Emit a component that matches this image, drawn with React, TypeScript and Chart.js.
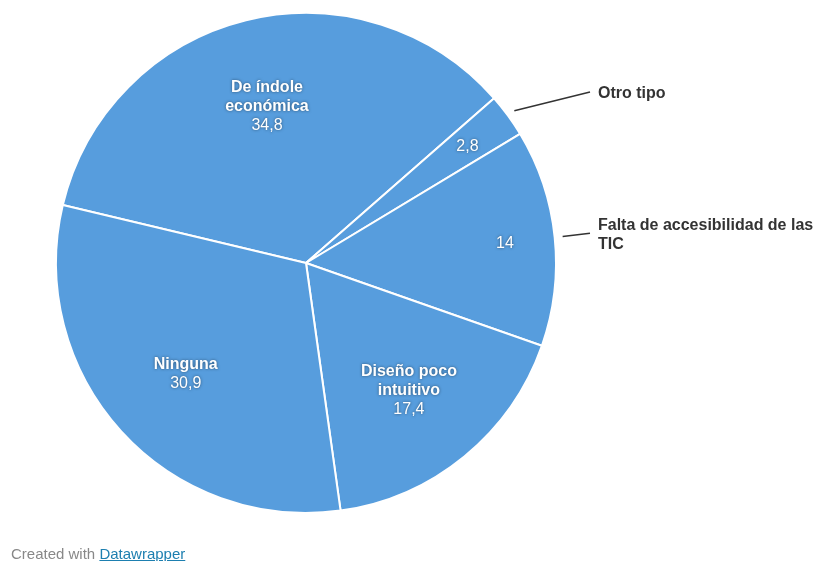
import React, { useEffect, useRef } from "react";
import { Chart, registerables } from "chart.js";

Chart.register(...registerables);

const categories = [
  "De índole económica",
  "Otro tipo",
  "Falta de accesibilidad de las TIC",
  "Diseño poco intuitivo",
  "Ninguna",
];
const values = [34.8, 2.8, 14, 17.4, 30.9];
const nameLines = [
  ["De índole", "económica"],
  ["Otro tipo"],
  ["Falta de accesibilidad de las", "TIC"],
  ["Diseño poco", "intuitivo"],
  ["Ninguna"],
];

const PIE_COLOR = "#579ddd";
const FONT = "Arial, 'Liberation Sans', sans-serif";

const fmt = (v: number) => String(v).replace(".", ",");

const labelPlugin = {
  id: "pieLabels",
  afterDatasetsDraw(chart: any) {
    const ctx: CanvasRenderingContext2D = chart.ctx;
    const meta = chart.getDatasetMeta(0);
    meta.data.forEach((arc: any, i: number) => {
      const { x, y, startAngle, endAngle, outerRadius } = arc.getProps(
        ["x", "y", "startAngle", "endAngle", "outerRadius"],
        true
      );
      const mid = (startAngle + endAngle) / 2;
      const cos = Math.cos(mid);
      const sin = Math.sin(mid);
      const v = values[i];
      const outside = v < 15;
      const lh = 19;
      const dy = 1.5;
      ctx.save();
      ctx.textAlign = "center";
      ctx.textBaseline = "middle";
      ctx.fillStyle = "#ffffff";
      ctx.shadowColor = "rgba(0,0,0,0.5)";
      ctx.shadowBlur = 3;
      if (!outside) {
        const r = outerRadius * 0.65;
        const lx = x + cos * r;
        const ly = y + sin * r + dy;
        const lines = nameLines[i];
        const total = lines.length + 1;
        const y0 = ly - ((total - 1) * lh) / 2;
        ctx.font = `bold 16px ${FONT}`;
        lines.forEach((t, k) => ctx.fillText(t, lx, y0 + k * lh));
        ctx.font = `16px ${FONT}`;
        ctx.fillText(fmt(v), lx, y0 + lines.length * lh);
      } else {
        const r = outerRadius * 0.8;
        ctx.font = `16px ${FONT}`;
        ctx.fillText(fmt(v), x + cos * r, y + sin * r + dy);
        ctx.restore();
        ctx.save();
        // leader line + outside label
        const sx = x + cos * (outerRadius + 8);
        const sy = y + sin * (outerRadius + 8);
        const ex = x + outerRadius + 34;
        const ey = y + sin * (outerRadius + 40);
        ctx.strokeStyle = "#333333";
        ctx.lineWidth = 1.5;
        ctx.beginPath();
        ctx.moveTo(sx, sy);
        ctx.lineTo(ex, ey);
        ctx.stroke();
        const lines = nameLines[i];
        ctx.font = `bold 16px ${FONT}`;
        ctx.fillStyle = "#333333";
        ctx.textAlign = "left";
        ctx.textBaseline = "middle";
        const y0 = ey + dy - ((lines.length - 1) * lh) / 2;
        lines.forEach((t, k) => ctx.fillText(t, ex + 8, y0 + k * lh));
      }
      ctx.restore();
    });
  },
};

export default function App() {
  const ref = useRef<HTMLCanvasElement | null>(null);
  useEffect(() => {
    if (!ref.current) return;
    const chart = new Chart(ref.current, {
      type: "pie",
      data: {
        labels: categories,
        datasets: [
          {
            data: values,
            backgroundColor: PIE_COLOR,
            borderColor: "#ffffff",
            borderWidth: 2,
          },
        ],
      },
      options: {
        responsive: false,
        animation: false,
        rotation: -76.6,
        layout: { padding: { left: 55, top: 12, right: 263, bottom: 47 } },
        plugins: {
          legend: { display: false },
          tooltip: { enabled: false },
        },
      },
      plugins: [labelPlugin],
    });
    return () => chart.destroy();
  }, []);

  return (
    <div style={{ position: "absolute", left: 0, top: 0, width: 820, height: 561, overflow: "hidden", background: "#fff" }}>
      <canvas ref={ref} width={820} height={561} style={{ display: "block" }} />
      <div
        style={{
          position: "absolute",
          left: 11,
          top: 545,
          fontFamily: FONT,
          fontSize: 15,
          lineHeight: "18px",
          color: "#888888",
          whiteSpace: "nowrap",
        }}
      >
        Created with{" "}
        <span style={{ color: "#1d7fb0", textDecoration: "underline" }}>Datawrapper</span>
      </div>
    </div>
  );
}
